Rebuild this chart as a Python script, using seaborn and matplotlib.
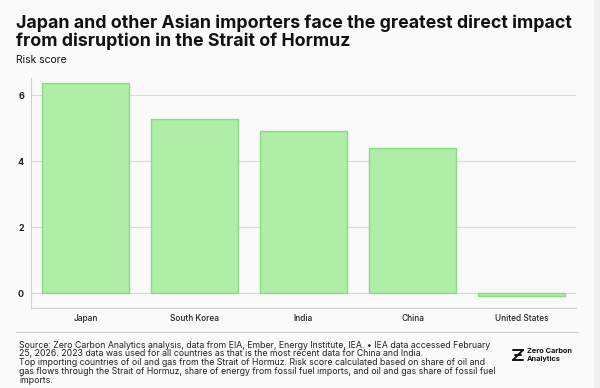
"""
Strait of Hormuz risk score bar chart
"""

import matplotlib
matplotlib.use("Agg")
import matplotlib.pyplot as plt
import seaborn as sns
from matplotlib.lines import Line2D
from matplotlib.patches import Rectangle

# Data
countries = ["Japan", "South Korea", "India", "China", "United States"]
risk_scores = [6.38, 5.29, 4.90, 4.39, -0.10]
y_ticks = [0, 2, 4, 6]

title = ("Japan and other Asian importers face the greatest direct impact\n"
         "from disruption in the Strait of Hormuz")
subtitle = "Risk score"
source_lines = [
    "Source: Zero Carbon Analytics analysis, data from EIA, Ember, Energy Institute, IEA. \u2022 IEA data accessed February",
    "25, 2026. 2023 data was used for all countries as that is the most recent data for China and India.",
    "Top importing countries of oil and gas from the Strait of Hormuz. Risk score calculated based on share of oil and",
    "gas flows through the Strait of Hormuz, share of energy from fossil fuel imports, and oil and gas share of fossil fuel",
    "imports.",
]

W, H = 600, 388


def fx(px):
    return px / W


def fy(py):
    return 1 - py / H


sns.set_theme(style="white")
plt.rcParams["font.family"] = ["Inter", "DejaVu Sans"]

bg = "#fafafa"
fig = plt.figure(figsize=(6, 3.88), dpi=100, facecolor=bg)

# faint darker strip on the right edge, as in the screenshot
fig.add_artist(Rectangle((fx(594), 0), fx(6), 1, transform=fig.transFigure,
                         facecolor="#efefef", edgecolor="none", zorder=0))

ax = fig.add_axes([fx(31), fy(308), (576 - 31) / W, (308 - 78) / H])
ax.set_facecolor(bg)

sns.barplot(x=countries, y=risk_scores, ax=ax, color="#aeeea6",
            edgecolor="#8fd888", linewidth=1, width=0.8, saturation=1)

ax.set_xlim(-0.5, 4.5)
ax.set_ylim(-0.45, 6.52)
ax.set_yticks(y_ticks)
ax.set_yticklabels([str(t) for t in y_ticks], fontsize=6.5, fontweight="bold",
                   color="#222222")
ax.set_xticks(range(len(countries)))
ax.set_xticklabels(countries, fontsize=6, color="#222222", fontweight="medium")
ax.tick_params(axis="y", length=0, pad=5)
ax.tick_params(axis="x", length=0, pad=4)
ax.set_xlabel("")
ax.set_ylabel("")
ax.yaxis.grid(True, color="#d9d9d9", linewidth=0.8)
ax.set_axisbelow(True)
for side in ["top", "right"]:
    ax.spines[side].set_visible(False)
for side in ["left", "bottom"]:
    ax.spines[side].set_color("#d0d0d0")
    ax.spines[side].set_linewidth(0.8)

# Titles
fig.text(fx(16), fy(14), title, fontsize=12.75, fontweight="bold",
         va="top", ha="left", color="#111111", linespacing=1.05)
fig.text(fx(16), fy(60), subtitle, fontsize=7.5, va="center",
         ha="left", color="#111111")

# Separator line above the source notes
fig.add_artist(Line2D([fx(16), fx(578)], [fy(332), fy(332)],
                      color="#cfcfcf", linewidth=0.8))

# Source notes
for i, line in enumerate(source_lines):
    fig.text(fx(19), fy(345 + i * 8.8), line, fontsize=6.3,
             va="center", ha="left", color="#222222")

# Logo: small striped Z mark plus name
for seg in [((513, 350), (523, 350)), ((523, 350), (513, 360)),
            ((513, 360), (523, 360)), ((515, 355), (521, 355))]:
    (x0, y0), (x1, y1) = seg
    fig.add_artist(Line2D([fx(x0), fx(x1)], [fy(y0), fy(y1)],
                          color="#111111", linewidth=1.4))
fig.text(fx(527), fy(351), "Zero Carbon", fontsize=5.3,
         fontweight="bold", va="center", ha="left", color="#111111")
fig.text(fx(527), fy(359), "Analytics", fontsize=5.3,
         fontweight="bold", va="center", ha="left", color="#111111")

fig.savefig("out.png", dpi=100, facecolor=bg)
